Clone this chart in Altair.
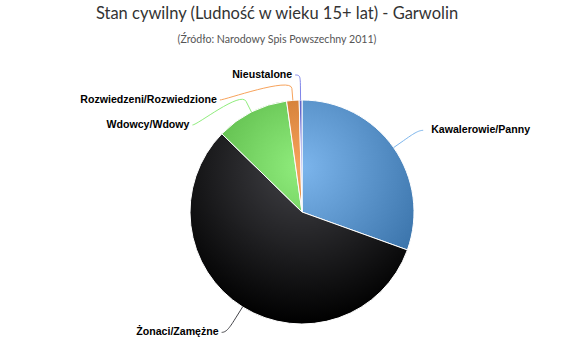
import math
import altair as alt
import pandas as pd

# ---------------- data ----------------
categories = ["Kawalerowie/Panny", "Żonaci/Zamężne", "Wdowcy/Wdowy",
              "Rozwiedzeni/Rozwiedzione", "Nieustalone"]
shares = [30.5, 56.8, 10.5, 1.8, 0.4]
palette = ["#7cb5ec", "#434348", "#90ed7d", "#f7a35c", "#8085e9"]

TITLE = "Stan cywilny (Ludność w wieku 15+ lat) - Garwolin"
SUBTITLE = "(Źródło: Narodowy Spis Powszechny 2011)"

# ---------------- layout ----------------
W, H = 570, 361
CX, CY, R = 302, 212, 112
DIST = 30
BREAK = 12
GAP = 25
LABEL_FONT = "Liberation Sans"
TITLE_FONT = "Lato"

n = len(shares)
total = float(sum(shares))
starts, ends, mids = [], [], []
acc = 0.0
for v in shares:
    a0 = acc / total * 2 * math.pi
    acc += v
    a1 = acc / total * 2 * math.pi
    starts.append(a0)
    ends.append(a1)
    mids.append((a0 + a1) / 2)


def shade(hexc, amt=-76):
    rgb = [int(hexc[i:i + 2], 16) for i in (1, 3, 5)]
    rgb = [max(0, min(255, c + amt)) for c in rgb]
    return "#%02x%02x%02x" % tuple(rgb)


def slice_gradient(a0, a1, color):
    pts = [(0.0, 0.0), (math.sin(a0), -math.cos(a0)), (math.sin(a1), -math.cos(a1))]
    for k in range(5):
        q = k * math.pi / 2
        if a0 < q < a1:
            pts.append((math.sin(q), -math.cos(q)))
    xs = [p[0] for p in pts]
    ys = [p[1] for p in pts]
    x0, x1, y0, y1 = min(xs), max(xs), min(ys), max(ys)
    s = max(x1 - x0, y1 - y0)
    ox = (x0 + x1) / 2 - s / 2
    oy = (y0 + y1) / 2 - s / 2
    gx = (0.0 - ox) / s
    gy = (-0.4 - oy) / s
    gr = 1.4 / s
    return {
        "gradient": "radial",
        "x1": gx, "y1": gy, "r1": 0,
        "x2": gx, "y2": gy, "r2": gr,
        "stops": [
            {"offset": 0, "color": color},
            {"offset": 1, "color": shade(color)},
        ],
    }


grads = [slice_gradient(starts[i], ends[i], palette[i]) for i in range(n)]

fill = alt.when(alt.datum.category == categories[0]).then(alt.value(grads[0]))
for i in range(1, n - 1):
    fill = fill.when(alt.datum.category == categories[i]).then(alt.value(grads[i]))
fill = fill.otherwise(alt.value(grads[n - 1]))

pie_df = pd.DataFrame({"category": categories, "share": shares, "idx": list(range(n))})

# ---------------- label layout (Highcharts-like) ----------------
RL = R + DIST


def natural(i):
    return CX + math.sin(mids[i]) * RL, CY - math.cos(mids[i]) * RL


label_rows = []
conn_rows = []
for side in ("right", "left"):
    idxs = [i for i in range(n) if (mids[i] < math.pi) == (side == "right")]
    idxs.sort(key=lambda i: natural(i)[1])
    sgn = 1 if side == "right" else -1
    prev = -1e9
    top_limit = CY - RL + 5
    for j, i in enumerate(idxs):
        nx, ny = natural(i)
        y = max(ny, prev + GAP, top_limit)
        prev = y
        if j == 0 or j == len(idxs) - 1:
            X = nx
        else:
            RM = RL - 6
            X = CX + sgn * math.sqrt(max(0.0, RM * RM - (y - CY) ** 2))
        p0 = (X + sgn * 5, y)
        c1 = (X, y)
        b = (CX + math.sin(mids[i]) * (R + BREAK), CY - math.cos(mids[i]) * (R + BREAK))
        e = (CX + math.sin(mids[i]) * R, CY - math.cos(mids[i]) * R)
        c2 = (2 * b[0] - e[0], 2 * b[1] - e[1])
        steps = 16
        for k in range(steps + 1):
            t = k / steps
            u = 1 - t
            px = u**3 * p0[0] + 3 * u * u * t * c1[0] + 3 * u * t * t * c2[0] + t**3 * b[0]
            py = u**3 * p0[1] + 3 * u * u * t * c1[1] + 3 * u * t * t * c2[1] + t**3 * b[1]
            conn_rows.append({"category": categories[i], "k": k, "x": px, "y": py})
        conn_rows.append({"category": categories[i], "k": steps + 1, "x": e[0], "y": e[1]})
        tx = p0[0] + 8 if side == "right" else p0[0] - 3
        label_rows.append({"category": categories[i], "tx": tx, "ty": y, "side": side})

conn_df = pd.DataFrame(conn_rows)
label_df = pd.DataFrame(label_rows)

# ---------------- chart ----------------
pie = alt.Chart(pie_df).mark_arc(radius=R, stroke="white", strokeWidth=1).encode(
    theta=alt.Theta("share:Q", stack=True),
    order=alt.Order("idx:Q", sort="ascending"),
    color=fill,
    x=alt.value(CX),
    y=alt.value(CY),
)

connectors = alt.Chart(conn_df).mark_line(strokeWidth=1).encode(
    x=alt.X("x:Q", scale=None, axis=None),
    y=alt.Y("y:Q", scale=None, axis=None),
    detail="category:N",
    order=alt.Order("k:Q"),
    color=alt.Color("category:N", scale=alt.Scale(domain=categories, range=palette), legend=None),
)

labels_right = alt.Chart(label_df).transform_filter(alt.datum.side == "right").mark_text(
    align="left", baseline="middle", font=LABEL_FONT, fontSize=10.6, fontWeight="bold", color="#000000"
).encode(
    x=alt.X("tx:Q", scale=None, axis=None),
    y=alt.Y("ty:Q", scale=None, axis=None),
    text="category:N",
)

labels_left = alt.Chart(label_df).transform_filter(alt.datum.side == "left").mark_text(
    align="right", baseline="middle", font=LABEL_FONT, fontSize=10.6, fontWeight="bold", color="#000000"
).encode(
    x=alt.X("tx:Q", scale=None, axis=None),
    y=alt.Y("ty:Q", scale=None, axis=None),
    text="category:N",
)

head_df = pd.DataFrame({"text": [TITLE, SUBTITLE], "kind": ["title", "subtitle"]})
title_mark = alt.Chart(head_df).transform_filter(alt.datum.kind == "title").mark_text(
    align="center", baseline="alphabetic", font=TITLE_FONT, fontSize=16.5, color="#333333"
).encode(text="text:N", x=alt.value(277), y=alt.value(19))
subtitle_mark = alt.Chart(head_df).transform_filter(alt.datum.kind == "subtitle").mark_text(
    align="center", baseline="alphabetic", font=TITLE_FONT, fontSize=10.6, color="#555555"
).encode(text="text:N", x=alt.value(277), y=alt.value(42.5))

chart = alt.layer(pie, connectors, labels_right, labels_left, title_mark, subtitle_mark).properties(
    width=W, height=H, autosize=alt.AutoSizeParams(type="none"), padding=0, background="white"
).configure_view(stroke=None)

chart.save("out.html", embed_options={"renderer": "svg", "actions": False})
